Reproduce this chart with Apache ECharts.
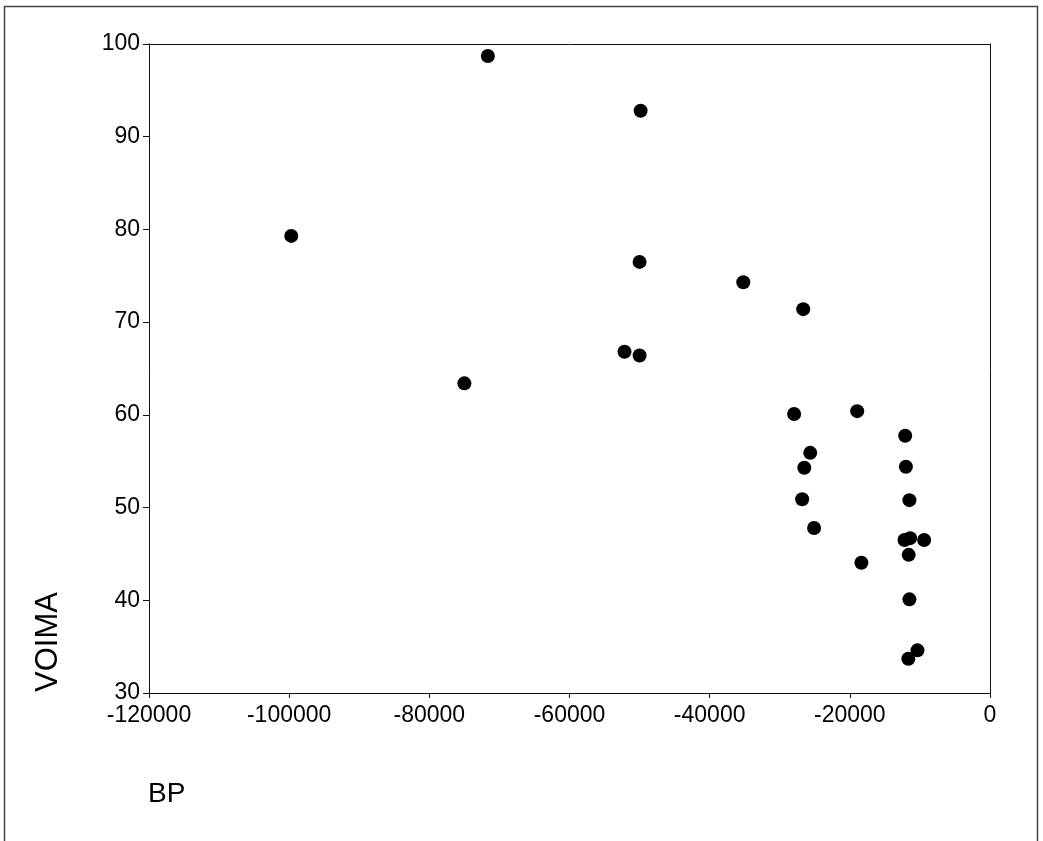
<!DOCTYPE html>
<html>
<head>
<meta charset="utf-8">
<script src="https://cdn.jsdelivr.net/npm/echarts@6/dist/echarts.min.js"></script>
<style>
html,body{margin:0;padding:0;background:#fff;}
#chart{width:1043px;height:841px;}
</style>
</head>
<body>
<div id="chart"></div>
<script>
// Data
const bpValues = [-99700, -71650, -49850, -50000, -35200, -26650, -52150, -50000, -75000, -27950, -18950, -25650, -26500, -26800, -25100, -18350, -12100, -12000, -11500, -12200, -11400, -9400, -11600, -11500, -10350, -11650];
const voimaValues = [79.3, 98.7, 92.8, 76.5, 74.3, 71.4, 66.8, 66.4, 63.4, 60.1, 60.4, 55.9, 54.3, 50.9, 47.8, 44.05, 57.75, 54.4, 50.8, 46.5, 46.7, 46.5, 44.9, 40.1, 34.6, 33.7];
const xAxisName = 'BP';
const yAxisName = 'VOIMA';

const points = bpValues.map((x, i) => [x, voimaValues[i]]);
const font = '"Liberation Sans", Arial, Helvetica, sans-serif';
const frameAxis = {
  axisLine: {show: true, lineStyle: {color: '#111', width: 1}},
  axisTick: {show: false},
  axisLabel: {show: false},
  splitLine: {show: false}
};

const chart = echarts.init(document.getElementById('chart'), null, {renderer: 'canvas'});
chart.setOption({
  backgroundColor: '#ffffff',
  animation: false,
  graphic: [
    {
      type: 'rect',
      shape: {x: 4.5, y: 6.5, width: 1033, height: 850},
      style: {fill: 'none', stroke: '#444', lineWidth: 1.5},
      silent: true
    },
    {
      type: 'text',
      left: 148, top: 780,
      style: {text: xAxisName, font: '28px ' + font, fill: '#000'}
    },
    {
      type: 'text',
      x: 48, y: 642,
      rotation: Math.PI / 2,
      style: {text: yAxisName, font: '31px ' + font, fill: '#000', align: 'center', verticalAlign: 'middle'}
    }
  ],
  grid: {
    left: 149, right: 53, top: 44, bottom: 148, show: false
  },
  xAxis: [{
    type: 'value',
    min: -120000, max: 0, interval: 20000,
    axisLine: {show: true, onZero: false, lineStyle: {color: '#111', width: 1}},
    axisTick: {show: true, inside: false, length: 5, lineStyle: {color: '#111'}},
    splitLine: {show: false},
    axisLabel: {color: '#000', fontSize: 23, fontFamily: font, margin: 11,
      formatter: v => String(v)}
  }, Object.assign({type: 'value', position: 'top', min: -120000, max: 0, interval: 20000}, frameAxis)],
  yAxis: [{
    type: 'value',
    min: 30, max: 100, interval: 10,
    axisLine: {show: true, onZero: false, lineStyle: {color: '#111', width: 1}},
    axisTick: {show: true, inside: false, length: 6, lineStyle: {color: '#111'}},
    splitLine: {show: false},
    axisLabel: {color: '#000', fontSize: 23, fontFamily: font, margin: 9}
  }, Object.assign({type: 'value', position: 'right', min: 30, max: 100, interval: 10}, frameAxis)],
  series: [{
    type: 'scatter',
    data: points,
    symbol: 'circle',
    symbolSize: 14,
    itemStyle: {color: '#000', opacity: 1}
  }]
});
</script>
</body>
</html>
